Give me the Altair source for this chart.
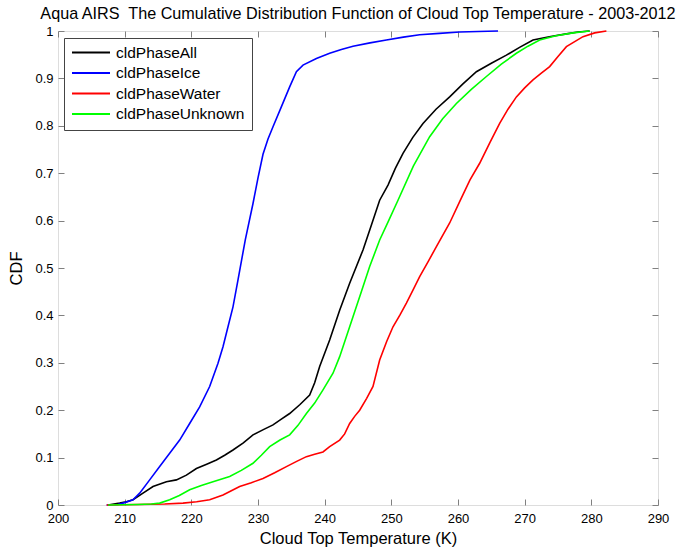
import altair as alt
import pandas as pd

series_names = ["cldPhaseAll", "cldPhaseIce", "cldPhaseWater", "cldPhaseUnknown"]
series_colors = ["#000000", "#0000ff", "#ff0000", "#00ff00"]

all_t = [207.5, 209.25, 210.0, 211.25, 212.75, 214.25, 216.26, 217.76, 219.26, 220.76, 222.3, 223.76,
         225.0, 226.25, 227.8, 229.25, 230.8, 232.25, 233.5, 234.75, 236.3, 237.75, 238.5, 239.25,
         240.75, 242.25, 243.75, 245.75, 247.0, 248.25, 249.5, 250.6, 251.75, 253.2, 254.75, 256.7,
         258.75, 260.7, 262.76, 265.0, 267.26, 269.3, 271.25, 273.7, 276.26, 278.0, 279.75]
all_cdf = [0.0, 0.004, 0.006, 0.011, 0.025, 0.039, 0.049, 0.053, 0.063, 0.077, 0.086, 0.095,
           0.105, 0.116, 0.131, 0.148, 0.159, 0.169, 0.181, 0.193, 0.212, 0.232, 0.258, 0.292,
           0.348, 0.411, 0.468, 0.538, 0.59, 0.643, 0.675, 0.71, 0.742, 0.775, 0.805, 0.835,
           0.861, 0.888, 0.914, 0.932, 0.949, 0.966, 0.981, 0.988, 0.994, 0.998, 1.0]

ice_t = [207.3, 209.0, 210.0, 211.25, 212.25, 213.75, 215.25, 216.75, 218.25, 219.75, 221.25, 222.75,
         224.0, 224.75, 225.5, 226.25, 227.0, 228.1, 229.25, 230.0, 230.75, 231.5, 232.25, 233.5,
         234.75, 235.76, 236.75, 238.76, 240.75, 242.5, 244.25, 246.8, 249.26, 251.8, 254.25, 257.2,
         260.25, 263.0, 266.0]
ice_cdf = [0.0, 0.001, 0.005, 0.011, 0.025, 0.053, 0.081, 0.109, 0.137, 0.172, 0.207, 0.25,
           0.299, 0.334, 0.376, 0.418, 0.475, 0.56, 0.636, 0.69, 0.74, 0.772, 0.798, 0.84,
           0.882, 0.914, 0.928, 0.942, 0.953, 0.961, 0.968, 0.975, 0.981, 0.987, 0.992, 0.995,
           0.998, 0.999, 1.0]

water_t = [207.3, 212.0, 216.0, 218.75, 220.8, 222.75, 224.75, 226.0, 227.25, 229.0, 230.75, 232.5,
           234.26, 235.8, 237.26, 238.5, 239.75, 240.75, 242.25, 243.0, 243.75, 244.5, 245.25, 246.3,
           247.25, 248.25, 249.3, 250.25, 251.3, 252.26, 253.3, 254.25, 255.5, 256.76, 258.75, 260.25,
           261.8, 263.25, 264.8, 266.25, 267.5, 268.76, 270.0, 271.25, 272.5, 273.75, 275.0, 276.26,
           278.75, 280.5, 282.26]
water_cdf = [0.0, 0.001, 0.002, 0.004, 0.007, 0.011, 0.021, 0.03, 0.039, 0.047, 0.056, 0.068,
             0.081, 0.092, 0.102, 0.107, 0.112, 0.123, 0.137, 0.15, 0.172, 0.187, 0.2, 0.225,
             0.25, 0.306, 0.345, 0.376, 0.401, 0.426, 0.455, 0.482, 0.513, 0.545, 0.595, 0.64,
             0.686, 0.721, 0.765, 0.805, 0.835, 0.861, 0.88, 0.897, 0.911, 0.925, 0.946, 0.967,
             0.988, 0.996, 1.0]

unknown_t = [207.5, 212.0, 214.0, 215.25, 216.75, 218.2, 219.75, 221.5, 223.25, 225.75, 227.5, 229.25,
             230.5, 231.75, 233.3, 234.75, 236.0, 237.26, 238.5, 239.75, 241.25, 242.25, 243.75, 244.25,
             245.5, 246.75, 248.25, 249.6, 251.0, 253.3, 255.75, 257.7, 259.76, 262.0, 264.26, 266.5,
             268.76, 270.5, 272.25, 274.7, 277.25, 279.75]
unknown_cdf = [0.0, 0.001, 0.002, 0.004, 0.011, 0.02, 0.032, 0.041, 0.049, 0.06, 0.073, 0.088,
               0.105, 0.123, 0.137, 0.148, 0.168, 0.193, 0.215, 0.243, 0.278, 0.313, 0.376, 0.397,
               0.45, 0.503, 0.559, 0.6, 0.643, 0.715, 0.777, 0.815, 0.847, 0.877, 0.904, 0.93,
               0.953, 0.968, 0.981, 0.99, 0.996, 1.0]

x_ticks = [200, 210, 220, 230, 240, 250, 260, 270, 280, 290]
y_ticks = [0, 0.1, 0.2, 0.3, 0.4, 0.5, 0.6, 0.7, 0.8, 0.9, 1]

rows = []
for name, ts, cs in zip(series_names, [all_t, ice_t, water_t, unknown_t],
                        [all_cdf, ice_cdf, water_cdf, unknown_cdf]):
    assert len(ts) == len(cs), name
    for i, (t, c) in enumerate(zip(ts, cs)):
        rows.append({"series": name, "T": t, "CDF": c, "order": i})
df = pd.DataFrame(rows)

FONT = "Liberation Sans"
AX = "#808080"
x_scale = alt.Scale(domain=[200, 290], nice=False, zero=False)
y_scale = alt.Scale(domain=[0, 1], nice=False, zero=False)

main_x_axis = alt.Axis(values=x_ticks, format="d", title="Cloud Top Temperature (K)", ticks=False,
                       domain=False, grid=False, labelFontSize=13, labelFont=FONT, labelColor="black",
                       labelPadding=7, titleFont=FONT, titleFontSize=16.5, titleFontWeight="normal",
                       titleColor="black", titlePadding=5, labelFlush=False)
main_y_axis = alt.Axis(values=y_ticks, format="~g", title="CDF", ticks=False, domain=False, grid=False,
                       labelFontSize=13, labelFont=FONT, labelColor="black", labelPadding=5,
                       titleFont=FONT, titleFontSize=16.5, titleFontWeight="normal", titleColor="black",
                       titlePadding=10, labelFlush=False)

legend = alt.Legend(orient="none", legendX=6, legendY=7, title=None, symbolType="stroke",
                    symbolSize=1444, symbolStrokeWidth=2, labelFontSize=15.5, labelFont=FONT,
                    labelColor="black", strokeColor="#444444", fillColor="white", padding=7,
                    rowPadding=4.5, clipHeight=15, labelOffset=5, labelLimit=300)

lines = alt.Chart(df).mark_line(strokeWidth=1.6).encode(
    x=alt.X("T:Q", scale=x_scale, axis=main_x_axis),
    y=alt.Y("CDF:Q", scale=y_scale, axis=main_y_axis),
    color=alt.Color("series:N", scale=alt.Scale(domain=series_names, range=series_colors),
                    legend=legend, sort=series_names),
    order="order:Q",
)


def tick_axis(orient, vals):
    return alt.Axis(orient=orient, values=vals, offset=-6, tickSize=6, tickColor=AX, ticks=True,
                    labels=False, domain=False, grid=False, title=None)


ticks_bl = alt.Chart(df).mark_line(opacity=0).encode(
    x=alt.X("T:Q", scale=x_scale, axis=tick_axis("bottom", x_ticks)),
    y=alt.Y("CDF:Q", scale=y_scale, axis=tick_axis("left", y_ticks)),
    detail="series:N",
)
ticks_tr = alt.Chart(df).mark_line(opacity=0).encode(
    x=alt.X("T:Q", scale=x_scale, axis=tick_axis("top", x_ticks)),
    y=alt.Y("CDF:Q", scale=y_scale, axis=tick_axis("right", y_ticks)),
    detail="series:N",
)

chart = alt.layer(lines, ticks_bl, ticks_tr).resolve_axis(x="independent", y="independent").properties(
    width=600, height=474,
    autosize="none",
    padding={"left": 58, "top": 31, "right": 18, "bottom": 45},
    title=alt.TitleParams(
        text="Aqua AIRS\u00a0 The Cumulative Distribution Function of Cloud Top Temperature - 2003-2012",
        font=FONT, fontSize=16.2, fontWeight="normal", color="black", anchor="middle", offset=2.5),
).configure_view(stroke=AX, strokeWidth=1).configure(background="white")

chart.save("out.html", embed_options={"renderer": "svg", "actions": False})
